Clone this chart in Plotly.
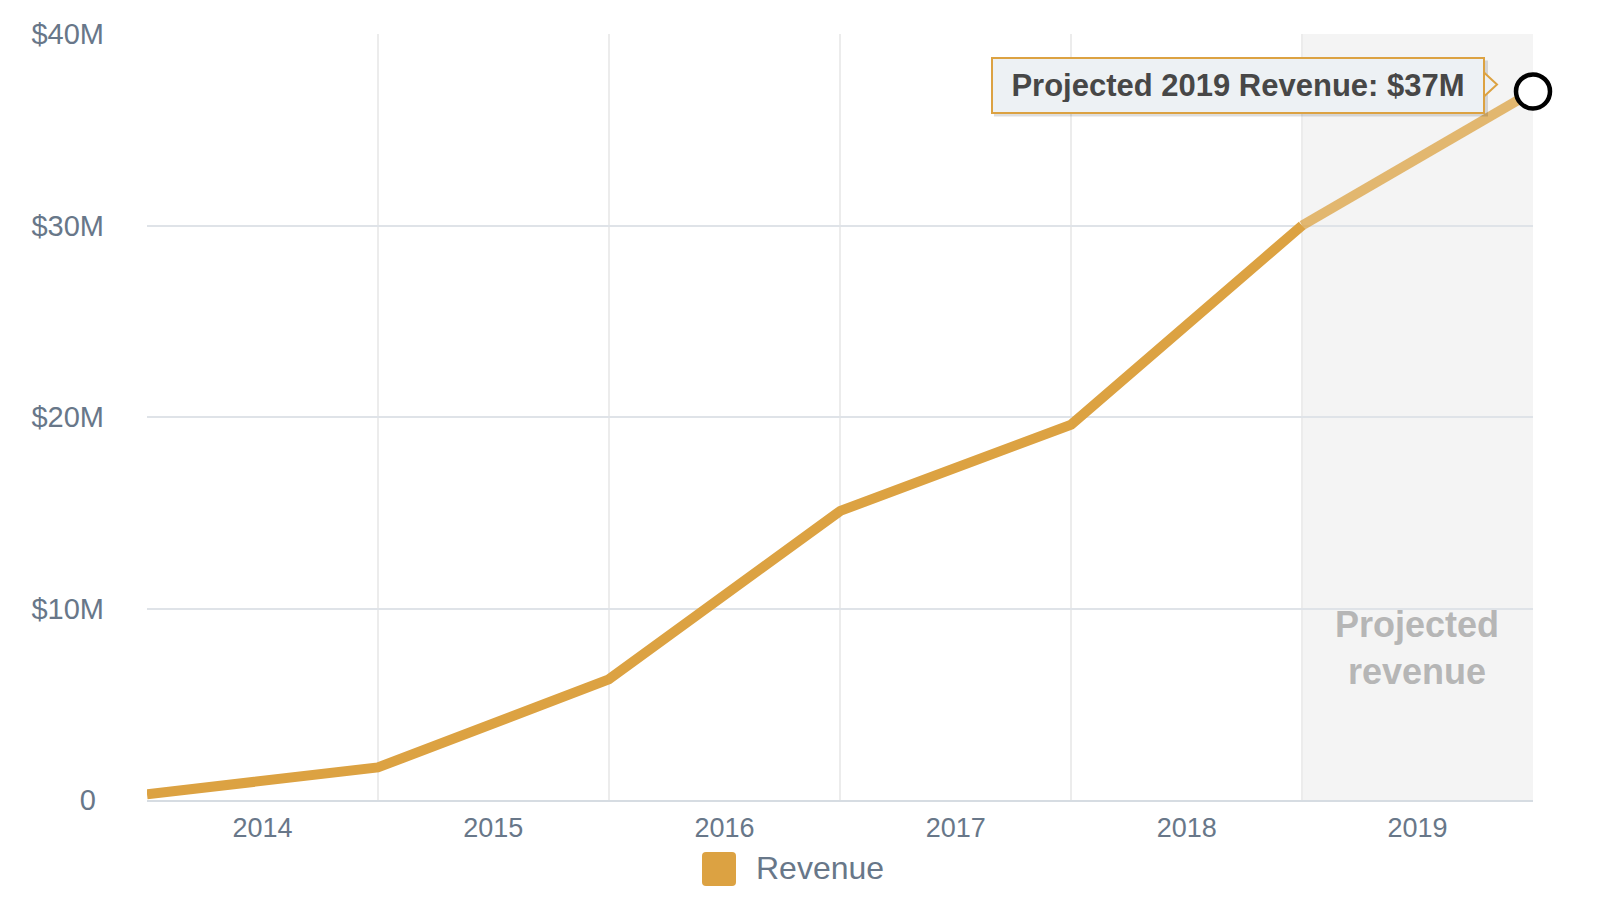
import plotly.graph_objects as go

# ---- data ----
period_dates = ["2014-01-01", "2015-01-01", "2016-01-01", "2017-01-01",
                "2018-01-01", "2019-01-01", "2020-01-01"]
revenue_musd = [0.3, 1.7, 6.3, 15.1, 19.6, 30.0, 37.0]
n_actual = 6                      # points 0..5 actual, last segment projected
projected_start = "2019-01-01"
projected_end = "2020-01-01"
y_tick_vals = [0, 10, 20, 30, 40]
y_tick_text = ["0\u00a0", "$10M", "$20M", "$30M", "$40M"]
series_name = "Revenue"
callout_text = "Projected 2019 Revenue: $37M"
band_text = "Projected<br>revenue"

# ---- styles ----
FONT = "Helvetica Neue, Helvetica, Arial, Liberation Sans, sans-serif"
ORANGE = "#dca242"
LABEL = "#687789"
CALLOUT_BG = "#edf1f4"

fig = go.Figure()

fig.add_trace(go.Scatter(
    x=period_dates[n_actual - 1:], y=revenue_musd[n_actual - 1:],
    mode="lines", line=dict(color=ORANGE, width=10), opacity=0.74,
    name=series_name, showlegend=False, hoverinfo="skip", cliponaxis=False))
fig.add_trace(go.Scatter(
    x=period_dates[:n_actual], y=revenue_musd[:n_actual],
    mode="lines", line=dict(color=ORANGE, width=10),
    name=series_name, showlegend=False, cliponaxis=False))
fig.add_trace(go.Scatter(
    x=period_dates[-1:], y=revenue_musd[-1:], mode="markers",
    marker=dict(size=34, color="white", line=dict(color="black", width=4.5)),
    showlegend=False, cliponaxis=False, hoverinfo="skip"))

# projected band
fig.add_shape(type="rect", xref="x", yref="paper",
              x0=projected_start, x1=projected_end, y0=0, y1=1,
              fillcolor="#f4f4f4", line=dict(width=0), layer="below")

fig.add_annotation(xref="x", yref="paper", x="2019-07-02", y=0.1385,
                   text="<b>" + band_text + "</b>", showarrow=False,
                   font=dict(family=FONT, size=36, color="#b6b6b6"))

# callout shadow
fig.add_shape(type="path", xref="x", yref="y",
              xsizemode="pixel", ysizemode="pixel",
              xanchor=period_dates[-1], yanchor=revenue_musd[-1],
              path="M -539 31 L -45 31 L -45 -25 L -539 -25 Z",
              fillcolor="rgba(0,0,0,0.13)", line=dict(width=0), layer="above")
# callout pointer
fig.add_shape(type="path", xref="x", yref="y",
              xsizemode="pixel", ysizemode="pixel",
              xanchor=period_dates[-1], yanchor=revenue_musd[-1],
              path="M -49 19 L -36 7 L -49 -5 Z",
              fillcolor=CALLOUT_BG, line=dict(color=ORANGE, width=2), layer="above")
# callout box
fig.add_annotation(xref="x", yref="y", x=period_dates[-1], y=revenue_musd[-1],
                   text="<b>" + callout_text + "</b>", showarrow=False,
                   xanchor="right", yanchor="middle", xshift=-48, yshift=6,
                   font=dict(family=FONT, size=31, color="#474747"),
                   bgcolor=CALLOUT_BG, bordercolor=ORANGE, borderwidth=2,
                   borderpad=10, width=470, height=33)

# manual legend
fig.add_shape(type="path", xref="paper", yref="paper",
              xsizemode="pixel", ysizemode="pixel",
              xanchor=0.4127, yanchor=-0.090,
              path="M -13 17 L 13 17 Q 17 17 17 13 L 17 -13 Q 17 -17 13 -17 "
                   "L -13 -17 Q -17 -17 -17 -13 L -17 13 Q -17 17 -13 17 Z",
              fillcolor=ORANGE, line=dict(width=0))
fig.add_annotation(xref="paper", yref="paper", x=0.438, y=-0.0888,
                   text=series_name, showarrow=False, xanchor="left",
                   yanchor="middle", font=dict(family=FONT, size=32, color=LABEL))

fig.update_layout(
    width=1600, height=900,
    margin=dict(l=139, r=75, t=26, b=108),
    paper_bgcolor="white", plot_bgcolor="white",
    font=dict(family=FONT, color=LABEL),
    showlegend=False,
)
fig.update_xaxes(
    type="date", range=[period_dates[0], period_dates[-1]],
    tick0=period_dates[0], dtick="M12", tickformat="%Y",
    ticklabelmode="period", ticks="",
    showgrid=True, gridcolor="#ececec", gridwidth=1.5,
    showline=True, linecolor="#d6dce2", linewidth=2,
    tickfont=dict(family=FONT, size=27, color=LABEL),
    ticklabelstandoff=3, zeroline=False, automargin=False,
)
fig.update_yaxes(
    range=[0, 40], tickvals=y_tick_vals, ticktext=y_tick_text,
    showgrid=True, gridcolor="#dfe3e8", gridwidth=1.5,
    zeroline=False, showline=False, ticks="",
    tickfont=dict(family=FONT, size=29, color=LABEL),
    ticklabelstandoff=42, automargin=False,
)

fig.write_html("out.html")
